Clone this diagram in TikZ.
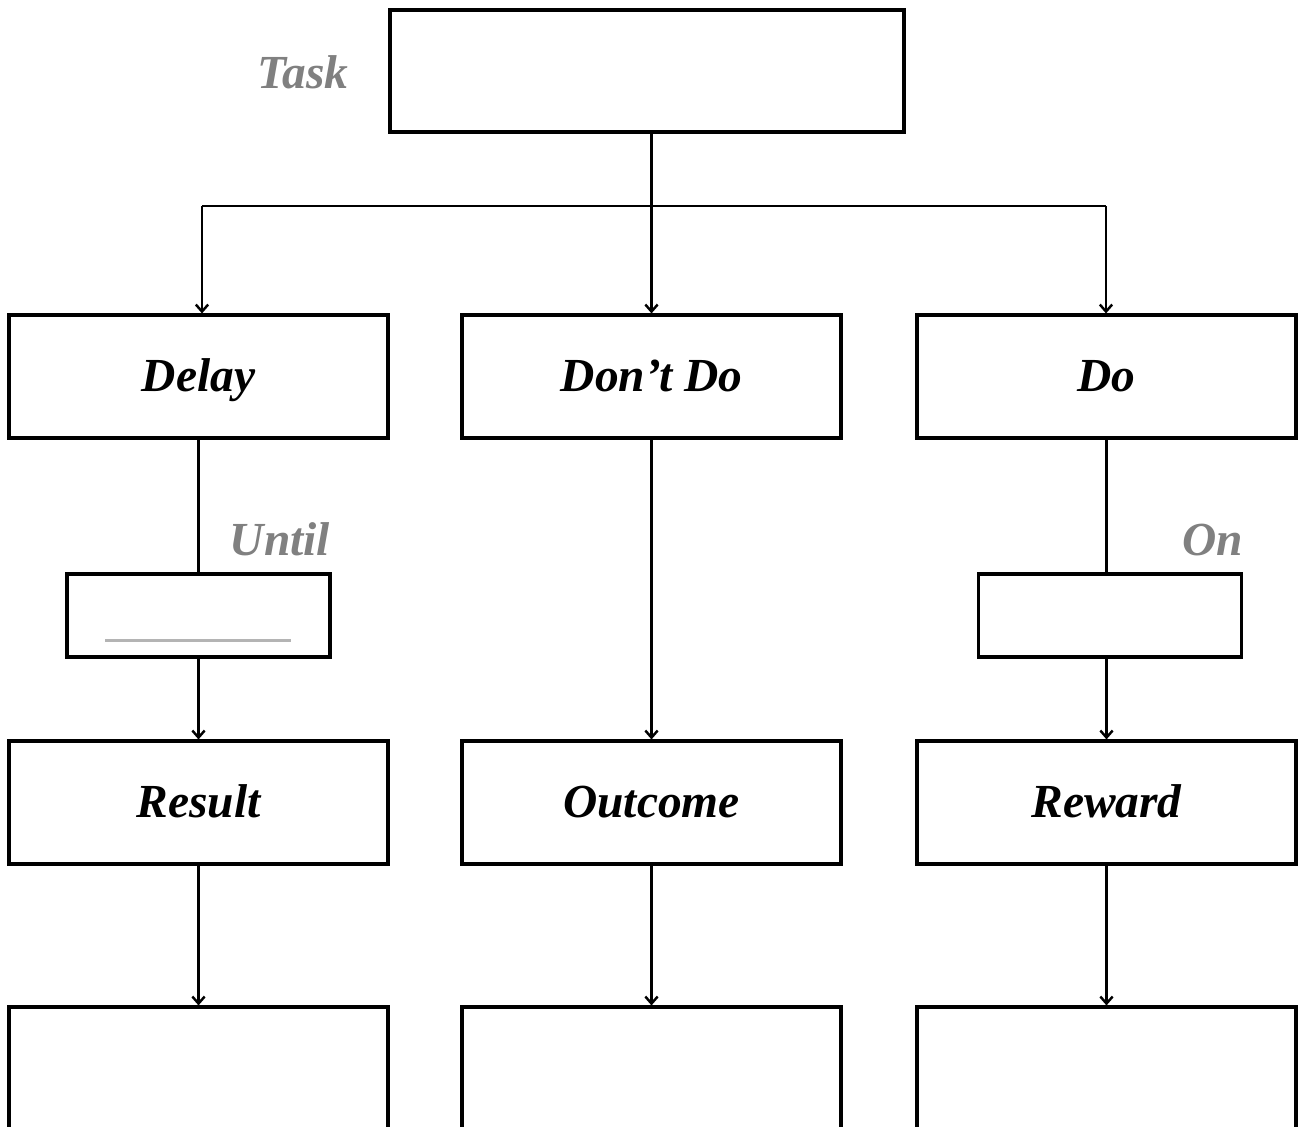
\documentclass[tikz,border=0pt]{standalone}
\usepackage{fontspec}
\setmainfont{Liberation Serif}
\usepackage{tikz}
\usetikzlibrary{arrows.meta,positioning}
\definecolor{labelgray}{RGB}{128,128,128}
\definecolor{rulegray}{RGB}{180,180,180}
\tikzset{
    boxbase/.style={
        rectangle,
        draw=black,
        line width=1.8pt,
        fill=white,
        align=center,
        text height=17.5pt,
        text depth=0pt,
        font=\fontsize{27}{32}\selectfont\bfseries\itshape
    },
    stagebox/.style={boxbase, minimum width=7.58cm, minimum height=2.46cm},
    taskbox/.style={boxbase, minimum width=10.28cm, minimum height=2.44cm},
    smallbox/.style={boxbase, minimum width=5.26cm, minimum height=1.66cm},
    sidelabel/.style={text=labelgray, text height=17.5pt, text depth=0pt, font=\fontsize{27}{32}\selectfont\bfseries\itshape},
    line/.style={line width=1.4pt, draw=black},
    arrowline/.style={line, -{Straight Barb[length=4pt,width=7pt]}},
}
\begin{document}
\begin{tikzpicture}[x=0.02cm, y=-0.02cm]
    \clip (0,0) rectangle (1298,1126);

    % Top task
    \node[taskbox] (task) at (647,71) {};
    \node[sidelabel] (tasklabel) at (303,73) {Task};

    % First row
    \node[stagebox] (delay) at (198.5,376.5) {Delay};
    \node[stagebox] (dontdo) at (651.5,376.5) {Don’t Do};
    \node[stagebox] (do) at (1106.5,376.5) {Do};

    % Condition boxes
    \node[smallbox] (until) at (198.5,615.5) {};
    \node[sidelabel] (untillabel) at (280,540) {Until};
    \node[smallbox] (on) at (1110,615.5) {};
    \node[sidelabel] (onlabel) at (1213,540) {On};

    % Second row
    \node[stagebox] (result) at (198.5,802.5) {Result};
    \node[stagebox] (outcome) at (651.5,802.5) {Outcome};
    \node[stagebox] (reward) at (1106.5,802.5) {Reward};

    % Third row (cut off by the page edge)
    \node[stagebox] (resultnext) at (198.5,1068.5) {};
    \node[stagebox] (outcomenext) at (651.5,1068.5) {};
    \node[stagebox] (rewardnext) at (1106.5,1068.5) {};

    % Blank line inside the until box
    \draw[rulegray, line width=1.4pt] ([shift={(40,-18)}]until.south west) -- ([shift={(-41,-18)}]until.south east);

    % Branching from the task
    \coordinate (barL) at (202,206);
    \coordinate (barR) at (1106,206);
    \draw[arrowline] (task.south -| dontdo.north) -- (dontdo.north);
    \draw[line] (barL) -- (barR);
    \draw[arrowline] (barL) -- (barL |- delay.north);
    \draw[arrowline] (barR) -- (barR |- do.north);

    % Down the columns
    \draw[line] (delay.south) -- (until.north);
    \draw[arrowline] (until.south) -- (result.north);
    \draw[arrowline] (dontdo.south) -- (outcome.north);
    \draw[line] (do.south) -- (do.south |- on.north);
    \draw[arrowline] (on.south -| reward.north) -- (reward.north);

    % To the last row
    \draw[arrowline] (result.south) -- (resultnext.north);
    \draw[arrowline] (outcome.south) -- (outcomenext.north);
    \draw[arrowline] (reward.south) -- (rewardnext.north);
\end{tikzpicture}
\end{document}
